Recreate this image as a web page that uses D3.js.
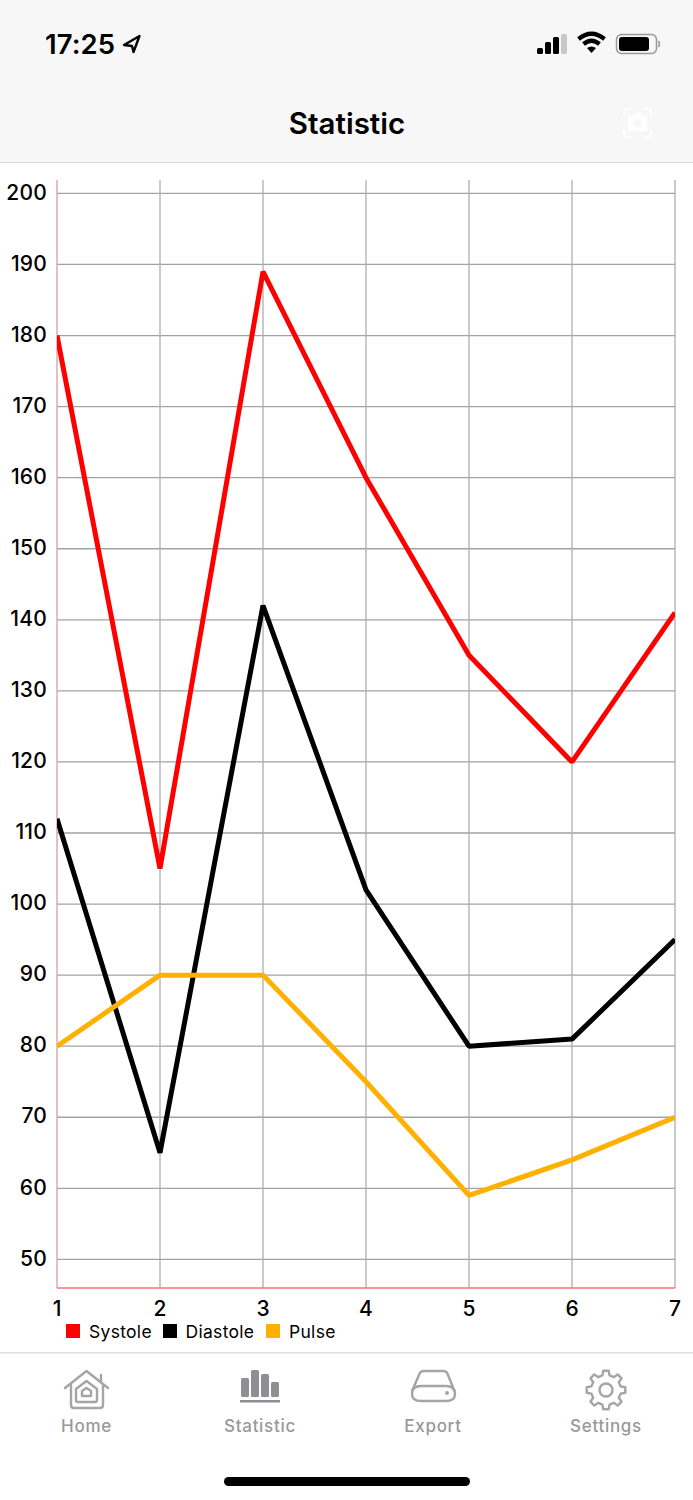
<!DOCTYPE html>
<html><head><meta charset="utf-8">
<script src="https://cdn.jsdelivr.net/npm/d3@7"></script>
<style>html,body{margin:0;padding:0;background:#fff;}svg{display:block;}text{font-family:Inter,"Noto Sans",sans-serif;}</style>
</head><body><div id="chart"></div>
<script>
const days = [1,2,3,4,5,6,7];
const yTicks = [50,60,70,80,90,100,110,120,130,140,150,160,170,180,190,200];
const systole = [180,105,189,160,135,120,141];
const diastole = [112,65,142,102,80,81,95];
const pulse = [80,90,90,75,59,64,70];
const seriesNames = ["Systole","Diastole","Pulse"];
const seriesColors = ["#ff0000","#000000","#ffb000"];
const seriesValues = [systole,diastole,pulse];
const tabs = ["Home","Statistic","Export","Settings"];
const titleText = "Statistic", clock = "17:25";

const W=693,H=1500;
const svg=d3.select("#chart").append("svg").attr("width",W).attr("height",H);
const x=d3.scaleLinear().domain([1,7]).range([57,675]);
const y=d3.scaleLinear().domain([50,200]).range([1259.4,193.4]);
const plotTop=180,plotBottom=1288;

// header
svg.append("rect").attr("width",W).attr("height",162).attr("fill","#f7f7f7");
svg.append("rect").attr("y",162).attr("width",W).attr("height",1).attr("fill","#d9d9d9");
svg.append("text").attr("x",45).attr("y",53.5).attr("font-size",27.5).attr("font-weight",600).attr("letter-spacing",0.1).attr("fill","#000").text(clock);
svg.append("path").attr("d","M139.5 36 L124 45 L132 46 L133.5 52 Z").attr("fill","none").attr("stroke","#000").attr("stroke-width",2.4).attr("stroke-linejoin","round");
[[537,48,6],[545,42,12],[553,37,17]].forEach(b=>svg.append("rect").attr("x",b[0]).attr("y",b[1]).attr("width",6).attr("height",b[2]).attr("rx",1.5).attr("fill","#000"));
svg.append("rect").attr("x",561).attr("y",34).attr("width",6).attr("height",20).attr("rx",1.5).attr("fill","#c8c8c8");
svg.append("path").attr("d","M578.5 39 Q591.5 28.5 604.5 39 M583.5 44 Q591.5 37.5 599.5 44").attr("fill","none").attr("stroke","#000").attr("stroke-width",4.2);
svg.append("path").attr("d","M587 48 Q591.5 45 596 48 L591.5 53 Z").attr("fill","#000");
svg.append("rect").attr("x",616.5).attr("y",34.5).attr("width",40).attr("height",19).attr("rx",5).attr("fill","none").attr("stroke","#999").attr("stroke-width",1.5);
svg.append("rect").attr("x",619).attr("y",37).attr("width",30).attr("height",14).attr("rx",3).attr("fill","#000");
svg.append("path").attr("d","M658.5 41 Q660.5 44 658.5 47").attr("fill","none").attr("stroke","#999").attr("stroke-width",1.5);
svg.append("text").attr("x",347).attr("y",133.5).attr("text-anchor","middle").attr("font-size",29.5).attr("font-weight",600).attr("fill","#000").text(titleText);
svg.append("path").attr("d","M624 116 V112 Q624 109 627 109 H631 M644 109 H648 Q651 109 651 112 V116 M651 130 V134 Q651 137 648 137 H644 M631 137 H627 Q624 137 624 134 V130").attr("fill","none").attr("stroke","#fff").attr("stroke-width",2);
svg.append("path").attr("d","M628 116 H633 L635 113 H641 L643 116 H647 V131 H628 Z").attr("fill","#fff");
svg.append("circle").attr("cx",637.5).attr("cy",123).attr("r",4).attr("fill","#f7f7f7");

// grid
const g=svg.append("g");
g.selectAll(".h").data(yTicks).join("line").attr("class","h").attr("x1",x(1)).attr("x2",x(7)).attr("y1",d=>y(d)).attr("y2",d=>y(d)).attr("stroke","#a2a2a2").attr("stroke-width",1.3);
g.selectAll(".v").data(days.slice(1)).join("line").attr("class","v").attr("x1",d=>x(d)).attr("x2",d=>x(d)).attr("y1",plotTop).attr("y2",plotBottom).attr("stroke","#aeaeae").attr("stroke-width",1.3);
g.append("line").attr("x1",x(1)).attr("x2",x(1)).attr("y1",plotTop).attr("y2",plotBottom).attr("stroke","#d4a0a0").attr("stroke-width",1.3);
g.append("line").attr("x1",x(1)).attr("x2",x(7)).attr("y1",plotBottom).attr("y2",plotBottom).attr("stroke","#ff7070").attr("stroke-width",1.4);

// axis labels
svg.selectAll(".yl").data(yTicks).join("text").attr("class","yl").attr("x",47).attr("y",d=>y(d)+6.2).attr("text-anchor","end").attr("font-size",21).attr("font-weight",500).attr("letter-spacing",0.2).attr("fill","#000").text(d=>d);
svg.selectAll(".xl").data(days).join("text").attr("class","xl").attr("x",d=>x(d)).attr("y",1316).attr("text-anchor","middle").attr("font-size",21).attr("font-weight",500).attr("fill","#000").text(d=>d);

// lines
svg.append("clipPath").attr("id","plot").append("rect").attr("x",x(1)).attr("y",plotTop).attr("width",x(7)-x(1)).attr("height",plotBottom-plotTop);
const line=d3.line().x((d,i)=>x(days[i])).y(d=>y(d));
const lg=svg.append("g").attr("clip-path","url(#plot)");
seriesValues.forEach((v,i)=>lg.append("path").attr("d",line(v)).attr("fill","none").attr("stroke",seriesColors[i]).attr("stroke-width",5).attr("stroke-linejoin","bevel"));

// legend
const legX=[66,163,266], legT=[89,185.5,289];
seriesNames.forEach((n,i)=>{
 svg.append("rect").attr("x",legX[i]).attr("y",1324).attr("width",14).attr("height",14).attr("fill",seriesColors[i]);
 svg.append("text").attr("x",legT[i]).attr("y",1337.5).attr("font-size",17.5).attr("letter-spacing",0.3).attr("fill","#000").text(n);
});

// tab bar
svg.append("rect").attr("y",1352).attr("width",W).attr("height",1.5).attr("fill","#dedede");
const tabX=[86.5,260,433,606];
tabs.forEach((t,i)=>svg.append("text").attr("x",tabX[i]).attr("y",1432).attr("text-anchor","middle").attr("font-size",17).attr("font-weight",500).attr("letter-spacing",0.7).attr("fill","#999").text(t));
const ic={fill:"none",stroke:"#a5a5a5","stroke-width":2.4,"stroke-linejoin":"round","stroke-linecap":"round"};
function P(d,o=ic){const p=svg.append("path").attr("d",d);Object.entries(o).forEach(([k,v])=>p.attr(k,v));return p;}
// home
P("M65 1388 L86.5 1371 L108 1388 M71 1384 V1405 Q71 1408 74 1408 H100 Q103 1408 103 1405 V1384 M101 1382 V1375");
P("M76 1389 L86.5 1381 L97 1389 V1400 Q97 1402 95 1402 H78 Q76 1402 76 1400 Z");
P("M82 1391 L86.5 1388 L91 1391 V1396 H82 Z");
// statistic
[[241,1378,1397],[251,1370,1397],[261,1374,1397],[271,1382,1397]].forEach(b=>svg.append("rect").attr("x",b[0]).attr("y",b[1]).attr("width",8).attr("height",b[2]-b[1]).attr("rx",1.5).attr("fill","#8e8e93"));
svg.append("rect").attr("x",240).attr("y",1400).attr("width",40).attr("height",2.5).attr("fill","#8e8e93");
// export
P("M412 1391 L419 1375 Q420 1371 424 1371 H443 Q447 1371 448 1375 L454.5 1391");
P("M412 1394 Q412 1386 421 1386 H446 Q455 1386 455 1394 Q455 1401 446 1401 H421 Q412 1401 412 1394 Z");
svg.append("circle").attr("cx",447).attr("cy",1393).attr("r",2).attr("fill","#a5a5a5");
// settings gear
const gearR=[19.5,15];
const teeth=8,pts=[];
for(let k=0;k<teeth;k++){const a=k/teeth*2*Math.PI;[[-.24,1],[-.14,0],[.14,0],[.24,1]].forEach(q=>{const r=q[1]?gearR[1]:gearR[0];const b=a+q[0];pts.push([606+r*Math.sin(b),1390-r*Math.cos(b)]);});}
P("M"+pts.map(p=>p[0].toFixed(1)+" "+p[1].toFixed(1)).join(" L")+" Z");
svg.append("circle").attr("cx",606).attr("cy",1390).attr("r",6.5).attr("fill","none").attr("stroke","#a5a5a5").attr("stroke-width",2.4);
svg.append("rect").attr("x",224).attr("y",1477).attr("width",246).attr("height",9).attr("rx",4.5).attr("fill","#000");
</script></body></html>
